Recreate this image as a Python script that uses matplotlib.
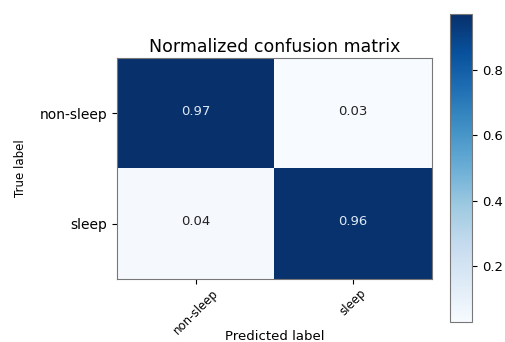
import numpy as np
import matplotlib
matplotlib.use("Agg")
import matplotlib.pyplot as plt

classes = ["non-sleep", "sleep"]
cm = np.array([[0.97, 0.03],
               [0.04, 0.96]])

fig = plt.figure(figsize=(5.06, 3.42), dpi=100)
ax = fig.add_axes([117/506, 1-279/342, 315/506, 221/342])
cax = fig.add_axes([450/506, 1-322/342, 22/506, 308/342])

im = ax.imshow(cm, interpolation="nearest", cmap=plt.cm.Blues, aspect="auto")
ax.set_title("Normalized confusion matrix", fontsize=12.5, pad=4)
cb = fig.colorbar(im, cax=cax)
cb.set_ticks([0.2, 0.4, 0.6, 0.8])
cb.ax.tick_params(labelsize=9.5)
cb.outline.set_edgecolor("#777777")

ticks = np.arange(len(classes))
ax.set_xticks(ticks)
ax.set_xticklabels(classes, rotation=45, fontsize=8.5)
ax.tick_params(axis="x", pad=2)
ax.set_yticks(ticks)
ax.set_yticklabels(classes, fontsize=10)
for s in ax.spines.values():
    s.set_edgecolor("#777777")

thresh = cm.max() / 2.
for i in range(cm.shape[0]):
    for j in range(cm.shape[1]):
        ax.text(j, i - 0.02, format(cm[i, j], ".2f"),
                ha="center", va="center", fontsize=9.5,
                color="#dde8f5" if cm[i, j] > thresh else "#222222")

ax.set_ylabel("True label", fontsize=8.5, labelpad=9)
ax.set_xlabel("Predicted label", fontsize=9.5)
ax.xaxis.set_label_coords(0.5, -0.232)

fig.savefig("out.png", dpi=100)
